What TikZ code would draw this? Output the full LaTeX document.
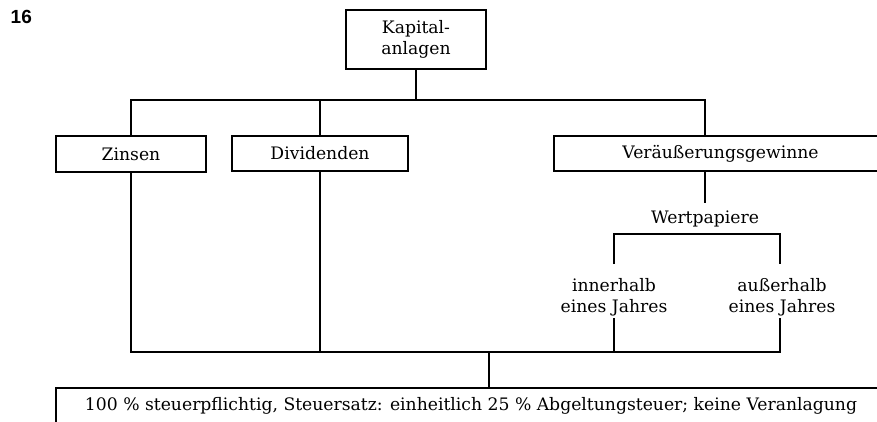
\documentclass[tikz,border=0pt]{standalone}
\usepackage{fontspec}
\setmainfont{DejaVu Serif}
\newfontfamily\numfont{Liberation Sans}
\begin{document}
\begin{tikzpicture}[x=1pt,y=-1pt,
  every node/.style={font=\fontsize{17.2}{21.5}\selectfont},
  box/.style={draw,line width=2pt,rectangle,inner sep=0pt},
  ln/.style={line width=2pt},
  lbl/.style={inner sep=0pt,align=center}]
\useasboundingbox (0,0) rectangle (877,421);
\clip (0,0) rectangle (877,421);
\node[anchor=base west,inner sep=0pt,font=\numfont\bfseries\fontsize{19}{21}\selectfont] (num) at (10.5,23.5) {16};
\node[box,minimum width=140,minimum height=59,align=center] (kap) at (416,39.5) {Kapital-\\anlagen};
\node[box,minimum width=150,minimum height=36] (zin) at (131,154) {Zinsen};
\node[box,minimum width=176,minimum height=35] (div) at (320,153.5) {Dividenden};
\node[box,minimum width=333,minimum height=35] (ver) at (720.5,153.5) {Veräußerungsgewinne};
\node[lbl,minimum height=31] (wp) at (705,218.5) {Wertpapiere};
\node[lbl] (inn) at (614,297) {innerhalb\\eines Jahres};
\node[lbl] (aus) at (782,297) {außerhalb\\eines Jahres};
\node[box,minimum width=830,minimum height=36] (tax) at (471,406) {100 \% steuerpflichtig, Steuersatz: einheitlich 25 \% Abgeltungsteuer; keine Veranlagung};
\coordinate (top) at (0,100);
\coordinate (innT) at (614,264);
\coordinate (innB) at (614,318);
\coordinate (ausT) at (780,264);
\coordinate (ausB) at (780,318);
\coordinate (j) at (489,352);
\draw[ln] (kap.south) -- (kap.south |- top);
\draw[ln] (zin.north) |- (wp |- top) -- (wp |- ver.north);
\draw[ln] (div.north) -- (div.north |- top);
\draw[ln] (wp |- ver.south) -- (wp.north);
\draw[ln] (innT) |- (wp.south) -| (ausT);
\draw[ln] (zin.south) |- (ausB |- j) -- (ausB);
\draw[ln] (div.south) -- (div.south |- j);
\draw[ln] (innB) -- (innB |- j);
\draw[ln] (j) -- (j |- tax.north);
\end{tikzpicture}
\end{document}
